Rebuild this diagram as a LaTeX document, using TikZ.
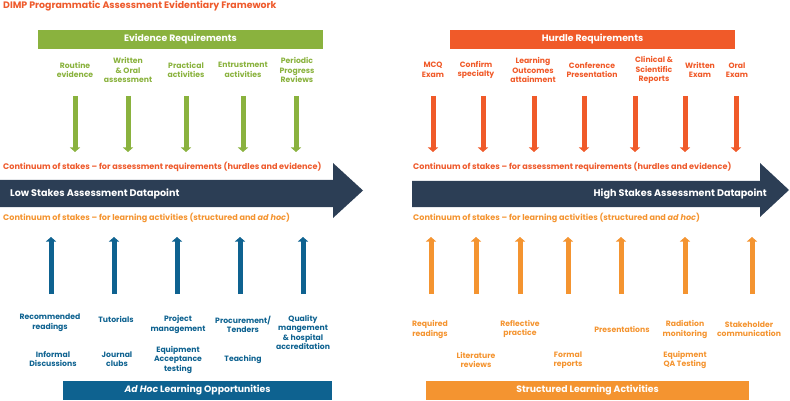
\documentclass[tikz,border=0pt]{standalone}
\usepackage{fontspec}
\setmainfont{Poppins}
\usetikzlibrary{arrows.meta}
\definecolor{titlered}{HTML}{EE5A2C}
\definecolor{evgreen}{HTML}{8AB23E}
\definecolor{hurdle}{HTML}{F05A29}
\definecolor{navy}{HTML}{2C3E55}
\definecolor{adhoc}{HTML}{0E6290}
\definecolor{struct}{HTML}{F49430}
\tikzstyle{lab}=[font=\bfseries\fontsize{7.7}{9.5}\selectfont,align=center,inner sep=0]
\tikzstyle{bar}=[minimum height=19pt,inner sep=0,text=white,font=\bfseries\fontsize{9.3}{10}\selectfont]
\tikzstyle{cont}=[anchor=west,inner sep=0,font=\bfseries\fontsize{8.1}{9}\selectfont]
\tikzstyle{fat}=[line width=5pt,-{Triangle[width=10pt,length=4.5pt]}]

\begin{document}
\begin{tikzpicture}[x=1pt,y=-1pt]
\useasboundingbox (0,0) rectangle (790,401);

\node[anchor=west,inner sep=0,text=titlered,font=\bfseries\fontsize{9.4}{11}\selectfont] (title) at (3,6) {DIMP Programmatic Assessment Evidentiary Framework};

% top bars
\node[bar,fill=evgreen,minimum width=285pt] (ev) at (180.5,39.5) {Evidence Requirements};
\node[bar,fill=hurdle,minimum width=285pt] (hu) at (592.5,39.5) {Hurdle Requirements};

% evidence
\node[lab,text=evgreen] (e1) at (75,70) {Routine\\evidence};
\node[lab,text=evgreen] (e2) at (128,70) {Written\\\& Oral\\assessment};
\node[lab,text=evgreen] (e3) at (186,70) {Practical\\activities};
\node[lab,text=evgreen] (e4) at (243,70) {Entrustment\\activities};
\node[lab,text=evgreen] (e5) at (297,70) {Periodic\\Progress\\Reviews};

% hurdles
\node[lab,text=hurdle] (h1) at (433,70) {MCQ\\Exam};
\node[lab,text=hurdle] (h2) at (476,70) {Confirm\\specialty};
\node[lab,text=hurdle] (h3) at (533,70) {Learning\\Outcomes\\attainment};
\node[lab,text=hurdle] (h4) at (592,70) {Conference\\Presentation};
\node[lab,text=hurdle] (h5) at (654,70) {Clinical \&\\Scientific\\Reports};
\node[lab,text=hurdle] (h6) at (700,70) {Written\\Exam};
\node[lab,text=hurdle] (h7) at (737,70) {Oral\\Exam};

\coordinate (e1t) at (75,96);  \coordinate (e1b) at (75,152);
\coordinate (e2t) at (128,96); \coordinate (e2b) at (128,152);
\coordinate (e3t) at (186,96); \coordinate (e3b) at (186,152);
\coordinate (e4t) at (243,96); \coordinate (e4b) at (243,152);
\coordinate (e5t) at (296,96); \coordinate (e5b) at (296,152);

\coordinate (h1t) at (433,96); \coordinate (h1b) at (433,152);
\coordinate (h2t) at (483,96); \coordinate (h2b) at (483,152);
\coordinate (h3t) at (534,96); \coordinate (h3b) at (534,152);
\coordinate (h4t) at (584,96); \coordinate (h4b) at (584,152);
\coordinate (h5t) at (635,96); \coordinate (h5b) at (635,152);
\coordinate (h6t) at (685,96); \coordinate (h6b) at (685,152);
\coordinate (h7t) at (736,96); \coordinate (h7b) at (736,152);

\path[fat,evgreen]
 (e1t) edge (e1b)
 (e2t) edge (e2b)
 (e3t) edge (e3b)
 (e4t) edge (e4b)
 (e5t) edge (e5b)
 ;
\path[fat,hurdle]
 (h1t) edge (h1b)
 (h2t) edge (h2b)
 (h3t) edge (h3b)
 (h4t) edge (h4b)
 (h5t) edge (h5b)
 (h6t) edge (h6b)
 (h7t) edge (h7b)
 ;

\node[cont,text=titlered] (c1) at (3,167) {Continuum of stakes – for assessment requirements (hurdles and evidence)};
\node[cont,text=titlered] (c2) at (413,167) {Continuum of stakes – for assessment requirements (hurdles and evidence)};

% big arrows
\fill[navy] (0,180) -- (333,180) -- (333,163) -- (363,190.5) -- (333,218) -- (333,207) -- (0,207) -- cycle;
\fill[navy] (412,181) -- (760,181) -- (760,163) -- (789,190) -- (760,217) -- (760,207) -- (412,207) -- cycle;
\node[anchor=west,inner sep=0,text=white,font=\bfseries\fontsize{9.6}{10}\selectfont] (low) at (10,194) {Low Stakes Assessment Datapoint};
\node[anchor=east,inner sep=0,text=white,font=\bfseries\fontsize{9.6}{10}\selectfont] (high) at (767,194) {High Stakes Assessment Datapoint};

\node[cont,text=struct] (c3) at (3,218) {Continuum of stakes – for learning activities (structured and \textit{ad hoc})};
\node[cont,text=struct] (c4) at (413,218) {Continuum of stakes – for learning activities (structured and \textit{ad hoc})};

% ad hoc
\node[lab,text=adhoc] (a1) at (50,322.5) {Recommended\\readings};
\node[lab,text=adhoc] (a2) at (116,319) {Tutorials};
\node[lab,text=adhoc] (a3) at (178,324.5) {Project\\management};
\node[lab,text=adhoc] (a4) at (243,324.5) {Procurement/\\Tenders};
\node[lab,text=adhoc] (a5) at (303,332.5) {Quality\\mangement\\\& hospital\\accreditation};
\node[lab,text=adhoc] (a6) at (53,359) {Informal\\Discussions};
\node[lab,text=adhoc] (a7) at (117,359) {Journal\\clubs};
\node[lab,text=adhoc] (a8) at (178,359.5) {Equipment\\Acceptance\\testing};
\node[lab,text=adhoc] (a9) at (243,359) {Teaching};

% structured
\node[lab,text=struct] (s1) at (430,329.5) {Required\\readings};
\node[lab,text=struct] (s2) at (476,360) {Literature\\reviews};
\node[lab,text=struct] (s3) at (520,329) {Reflective\\practice};
\node[lab,text=struct] (s4) at (568,360) {Formal\\reports};
\node[lab,text=struct] (s5) at (622,329) {Presentations};
\node[lab,text=struct] (s6) at (685,329.5) {Radiation\\monitoring};
\node[lab,text=struct] (s7) at (685,360) {Equipment\\QA Testing};
\node[lab,text=struct] (s8) at (749,329) {Stakeholder\\communication};

\coordinate (a1b) at (51,294);  \coordinate (a1t) at (51,237);
\coordinate (a2b) at (114,294); \coordinate (a2t) at (114,237);
\coordinate (a3b) at (177,294); \coordinate (a3t) at (177,237);
\coordinate (a4b) at (240,294); \coordinate (a4t) at (240,237);
\coordinate (a5b) at (303,294); \coordinate (a5t) at (303,237);

\coordinate (s1b) at (431,294); \coordinate (s1t) at (431,237);
\coordinate (s2b) at (476,294); \coordinate (s2t) at (476,237);
\coordinate (s3b) at (520,294); \coordinate (s3t) at (520,237);
\coordinate (s4b) at (568,294); \coordinate (s4t) at (568,237);
\coordinate (s5b) at (621,294); \coordinate (s5t) at (621,237);
\coordinate (s6b) at (685,294); \coordinate (s6t) at (685,237);
\coordinate (s7b) at (752,294); \coordinate (s7t) at (752,237);

\path[fat,adhoc]
 (a1b) edge (a1t)
 (a2b) edge (a2t)
 (a3b) edge (a3t)
 (a4b) edge (a4t)
 (a5b) edge (a5t)
 ;
\path[fat,struct]
 (s1b) edge (s1t)
 (s2b) edge (s2t)
 (s3b) edge (s3t)
 (s4b) edge (s4t)
 (s5b) edge (s5t)
 (s6b) edge (s6t)
 (s7b) edge (s7t)
 ;

% bottom bars
\node[bar,fill=adhoc,minimum width=269pt] (ah) at (197.5,390.5) {\textit{Ad Hoc} Learning Opportunities};
\node[bar,fill=struct,minimum width=323pt] (st) at (587.5,390.5) {Structured Learning Activities};

\end{tikzpicture}
\end{document}
